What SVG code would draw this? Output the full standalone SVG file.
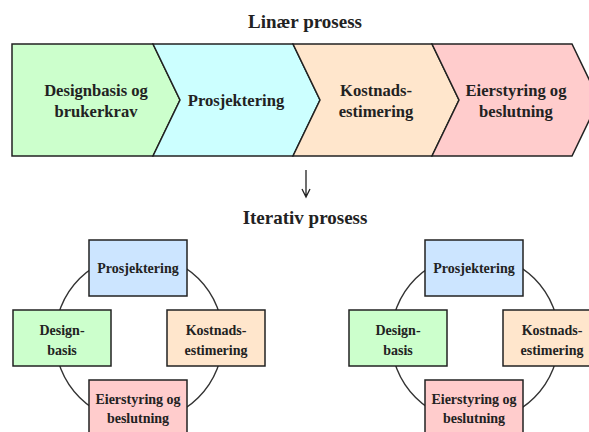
<svg xmlns="http://www.w3.org/2000/svg" width="589" height="432" viewBox="0 0 589 432">
<style>
text{font-family:"Liberation Serif","Times New Roman",serif;font-weight:bold;fill:#222;text-anchor:middle}
.title{font-size:19px}
.big{font-size:16.6px}
.sm{font-size:14px}
.chev{stroke:#222;stroke-width:1.5;stroke-linejoin:miter}
.box{stroke:#222;stroke-width:1.5}
.ring{fill:none;stroke:#333;stroke-width:1.4}
.g{fill:#ccffcc}.c{fill:#ccffff}.o{fill:#ffe6cc}.r{fill:#ffcccc}.b{fill:#cce5ff}
</style>
<rect width="589" height="432" fill="#fff"/>
<text class="title" x="305" y="28">Linær prosess</text>
<g id="linear-designbasis"><path class="chev g" d="M12,44 L153,44 L180,100 L153,156 L12,156 Z"/><text class="big" x="96" y="96">Designbasis og</text><text class="big" x="96" y="117">brukerkrav</text></g>
<g id="linear-prosjektering"><path class="chev c" d="M153,44 L293,44 L320,100 L293,156 L153,156 L180,100 Z"/><text class="big" x="236" y="106">Prosjektering</text></g>
<g id="linear-kostnad"><path class="chev o" d="M293,44 L432,44 L459,100 L432,156 L293,156 L320,100 Z"/><text class="big" x="376" y="96">Kostnads-</text><text class="big" x="376" y="117">estimering</text></g>
<g id="linear-eierstyring"><path class="chev r" d="M432,44 L572,44 L599,100 L572,156 L432,156 L459,100 Z"/><text class="big" x="516" y="96">Eierstyring og</text><text class="big" x="516" y="117">beslutning</text></g>
<g id="connectors">
<path d="M306,170 L306,196 M302,189 L306,197 L310,189" fill="none" stroke="#222" stroke-width="1.3"/>
<circle class="ring" cx="139" cy="338" r="84"/>
<circle class="ring" cx="475" cy="338" r="84"/>
</g>
<text class="title" x="305" y="224">Iterativ prosess</text>
<g id="it1-prosjektering"><rect class="box b" x="89" y="240" width="98" height="56"/><text class="sm" x="138" y="273">Prosjektering</text></g>
<g id="it1-designbasis"><rect class="box g" x="13" y="310" width="98" height="56"/><text class="sm" x="62" y="335">Design-</text><text class="sm" x="62" y="355">basis</text></g>
<g id="it1-kostnad"><rect class="box o" x="167" y="310" width="98" height="56"/><text class="sm" x="216" y="335">Kostnads-</text><text class="sm" x="216" y="355">estimering</text></g>
<g id="it1-eierstyring"><rect class="box r" x="89" y="380" width="98" height="58"/><text class="sm" x="138" y="404">Eierstyring og</text><text class="sm" x="138" y="423">beslutning</text></g>
<g id="it2-prosjektering"><rect class="box b" x="425" y="240" width="98" height="56"/><text class="sm" x="474" y="273">Prosjektering</text></g>
<g id="it2-designbasis"><rect class="box g" x="349" y="310" width="98" height="56"/><text class="sm" x="398" y="335">Design-</text><text class="sm" x="398" y="355">basis</text></g>
<g id="it2-kostnad"><rect class="box o" x="503" y="310" width="98" height="56"/><text class="sm" x="552" y="335">Kostnads-</text><text class="sm" x="552" y="355">estimering</text></g>
<g id="it2-eierstyring"><rect class="box r" x="425" y="380" width="98" height="58"/><text class="sm" x="474" y="404">Eierstyring og</text><text class="sm" x="474" y="423">beslutning</text></g>
</svg>
